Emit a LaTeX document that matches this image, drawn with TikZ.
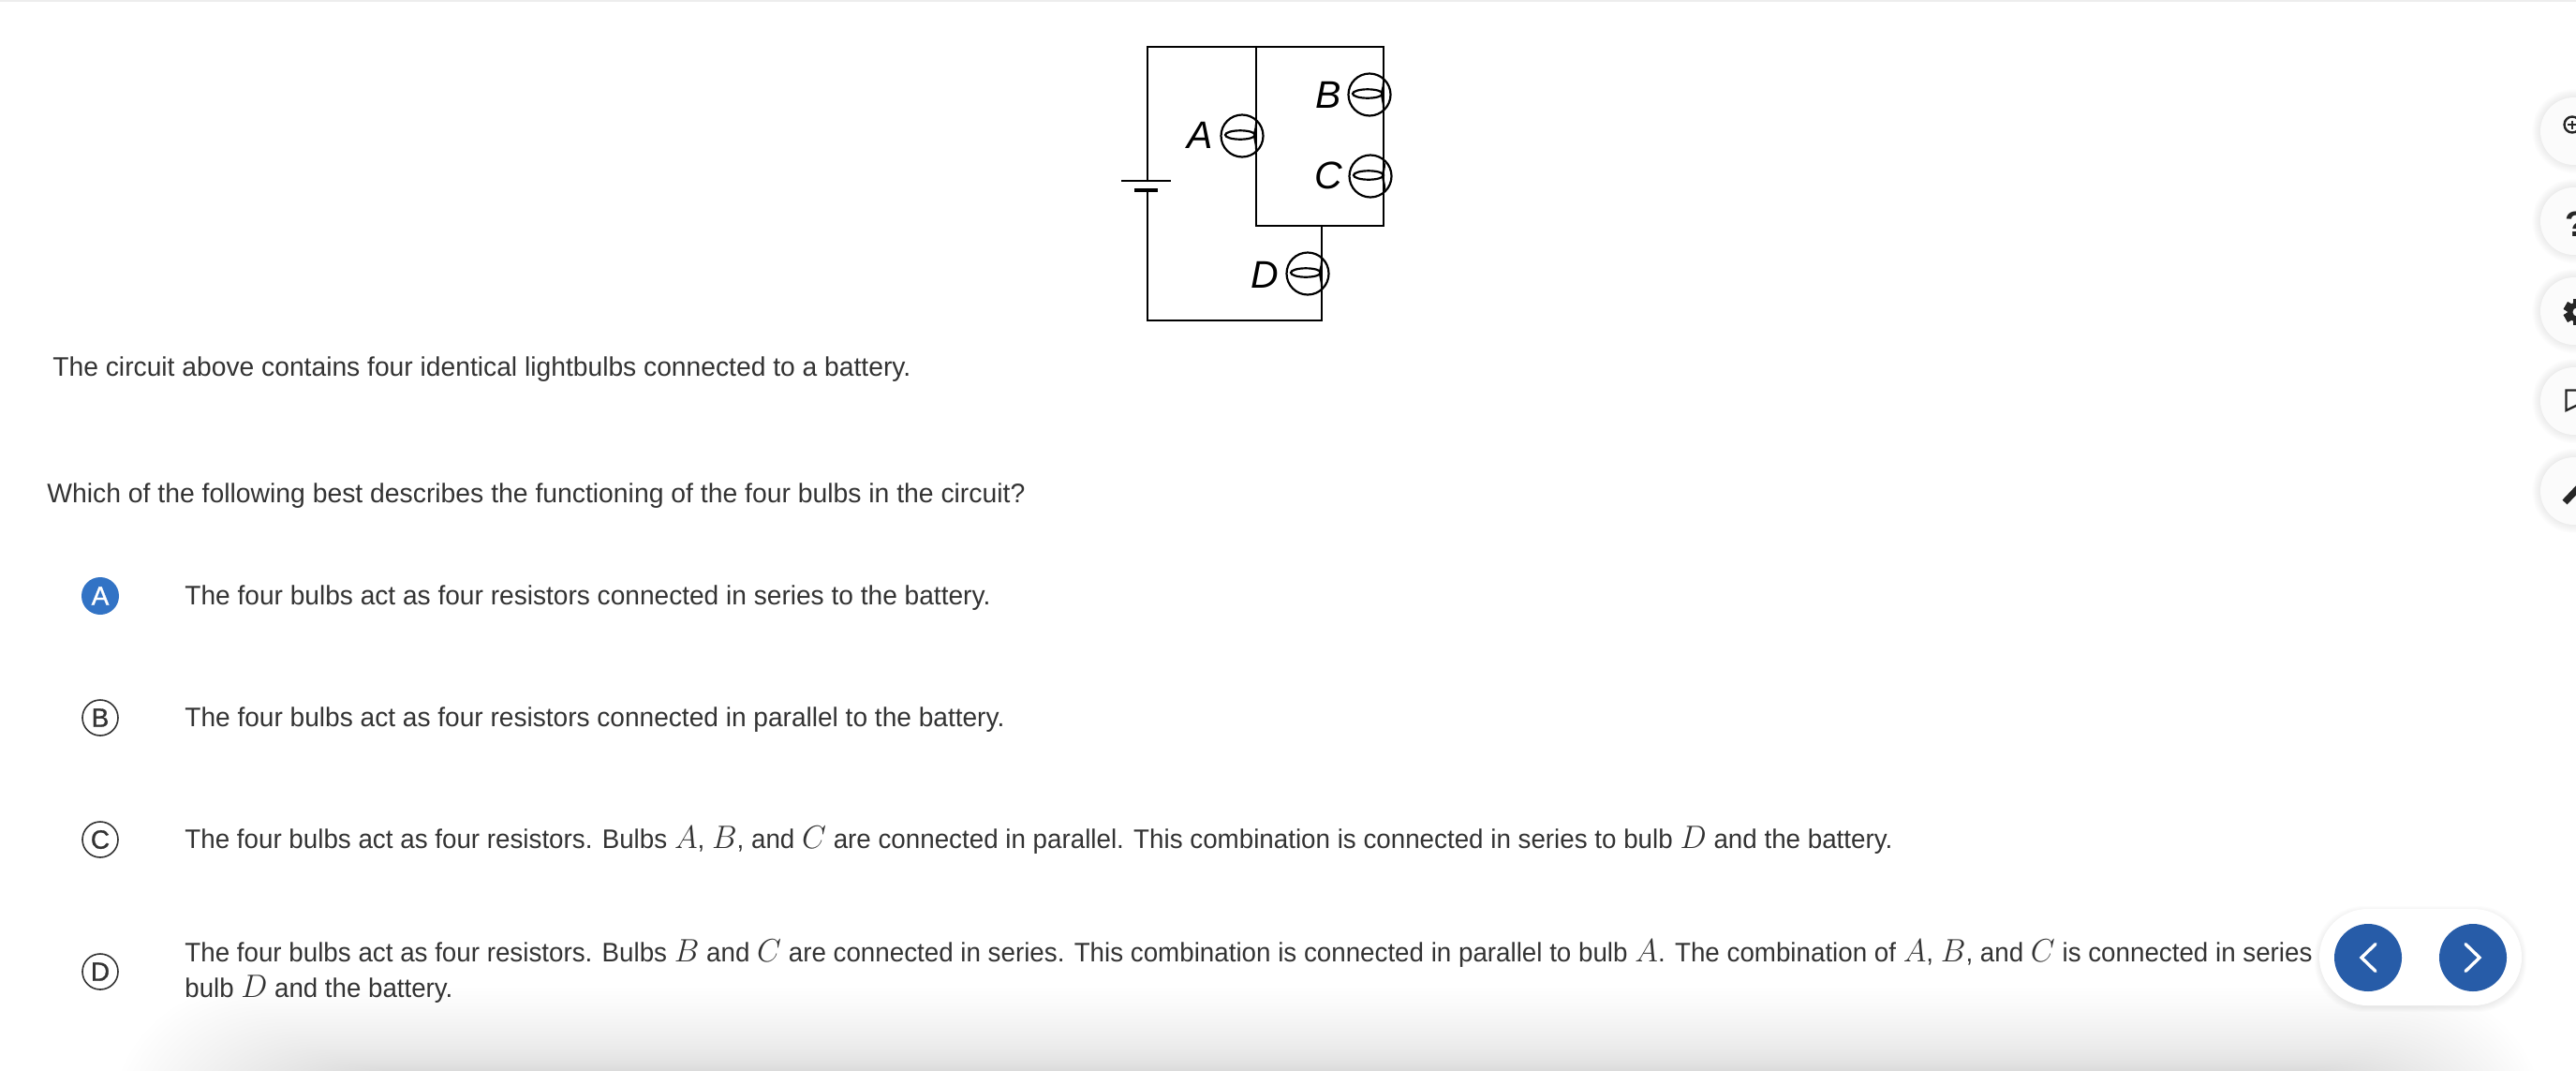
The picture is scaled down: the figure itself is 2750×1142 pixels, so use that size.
\documentclass[tikz,border=0pt]{standalone}
\usepackage{fontspec}
\usepackage{graphicx}
\setmainfont{Liberation Sans}
\newfontfamily\optfont[FakeBold=1]{Liberation Sans}
\definecolor{ink}{HTML}{333333}
\definecolor{navblue}{HTML}{275CA8}
\definecolor{picked}{HTML}{3273C5}
\definecolor{sidefill}{HTML}{FBFBFB}
\tikzset{
  x=0.5pt,y=-0.5pt,
  wire/.style={line width=1.1pt,black,line cap=round,line join=miter},
  bulbring/.style={circle,draw=black,line width=1.1pt,minimum size=22.5pt,inner sep=0pt},
  bulblabel/.style={font=\fontsize{20.5}{21}\selectfont\itshape,text=black,inner sep=0pt},
  bodytext/.style={anchor=base west,inner sep=0pt,text=ink,font=\fontsize{14.3}{17}\selectfont},
  optring/.style={circle,draw=ink,line width=0.8pt,minimum size=19pt,inner sep=0pt,text=ink,font=\fontsize{14}{14}\selectfont\optfont},
  optpicked/.style={circle,fill=picked,minimum size=20pt,inner sep=0pt,text=white,font=\fontsize{14}{14}\selectfont\optfont},
  navbtn/.style={circle,fill=navblue,minimum size=36pt,inner sep=0pt},
  chevron/.style={white,line width=1.7pt,line cap=round,line join=miter},
  sidebtn/.style={circle,fill=sidefill,minimum size=36pt,inner sep=0pt},
  sideicon/.style={black!85,line join=miter},
}
% name, x, baseline, width in px, text
\newcommand{\fitline}[5]{\node[bodytext] (#1) at (#2,#3) {\resizebox{\dimexpr#4pt/2\relax}{\height}{#5}};}
% math letter, a little larger than the text, as printed
\newcommand{\mvar}[1]{{\fontsize{16.5}{17}\selectfont$#1$}}
% name, label, centre x, centre y, label x, label y
\newcommand{\bulbat}[6]{%
  \node[bulbring] (#1) at (#3,#4) {};
  \node[bulblabel] (#1lab) at (#5,#6) {#2};
  \draw[wire] ($(#1)+(-2,-1)$) ellipse [x radius=16,y radius=4.7];
  \draw[wire] ($(#1)+(15,-13)$) .. controls ($(#1)+(15,-6)$) and ($(#1)+(12,-2)$) .. ($(#1)+(13,0)$) .. controls ($(#1)+(13,4)$) and ($(#1)+(15,6)$) .. ($(#1)+(15,14)$);
}
% soft shadow round a circle
\newcommand{\softcircle}[3]{\foreach \s in {0,1,...,9}{\fill[black,fill opacity=0.007] (#1,#2) circle [radius=#3+\s];}}
\usetikzlibrary{calc}
\begin{document}
\begin{tikzpicture}
\useasboundingbox (0,0) rectangle (2750,1142);
\begin{scope}
\clip (0,0) rectangle (2750,1142);
\fill[white] (0,0) rectangle (2750,1142);
\fill[black!7] (0,0) rectangle (2750,2);

% page-bottom shadow
\foreach \i in {0,1,...,44}{
  \pgfmathsetmacro{\topy}{1146-92*(1-\i/44)^2}
  \fill[black,fill opacity=0.0032,rounded corners=70pt] (120+4.5*\i,\topy) rectangle (2715-3.2*\i,1300);
}

% circuit corners
\coordinate (tl) at (1225,50);
\coordinate (tm) at (1341,50);
\coordinate (tr) at (1477,50);
\coordinate (mm) at (1341,241);
\coordinate (mr) at (1477,241);
\coordinate (md) at (1411,241);
\coordinate (bl) at (1225,342);
\coordinate (bd) at (1411,342);
\coordinate (plus) at (1225,193);
\coordinate (minus) at (1225,202);
\coordinate (plusl) at (1197,193);
\coordinate (plusr) at (1250,193);
\coordinate (minusl) at (1211,202.5);
\coordinate (minusr) at (1236,202.5);
\draw[wire] (plus) -- (tl) -- (tr) -- (mr) -- (mm) -- (tm);
\draw[wire] (md) -- (bd) -- (bl) -- (minus);
\draw[wire,line cap=butt] (plusl) -- (plusr);
\draw[wire,line width=2pt,line cap=butt] (minusl) -- (minusr);
\bulbat{bulbA}{A}{1326}{145}{1281}{144}
\bulbat{bulbB}{B}{1462}{101}{1418}{101}
\bulbat{bulbC}{C}{1463}{188}{1418}{187}
\bulbat{bulbD}{D}{1396}{292}{1350}{293}

% question text
\fitline{intro}{56}{401}{916}{The circuit above contains four identical lightbulbs connected to a battery.}
\fitline{ask}{50}{536}{1044}{Which of the following best describes the functioning of the four bulbs in the circuit?}

% options
\node[optpicked] (optA) at (107,636) {A};
\node[optring] (optB) at (107,766) {B};
\node[optring] (optC) at (107,896) {C};
\node[optring] (optD) at (107,1037) {D};
\fitline{textA}{197}{645}{860}{The four bulbs act as four resistors connected in series to the battery.}
\fitline{textB}{197}{775}{875}{The four bulbs act as four resistors connected in parallel to the battery.}
\fitline{textC}{197}{905}{1823}{The four bulbs act as four resistors. Bulbs \mvar{A}, \mvar{B}, and \mvar{C} are connected in parallel. This combination is connected in series to bulb \mvar{D} and the battery.}
\fitline{textDa}{197}{1026}{2271}{The four bulbs act as four resistors. Bulbs \mvar{B} and \mvar{C} are connected in series. This combination is connected in parallel to bulb \mvar{A}. The combination of \mvar{A}, \mvar{B}, and \mvar{C} is connected in series}
\fitline{textDb}{197}{1064}{286}{bulb \mvar{D} and the battery.}

% navigation pill
\foreach \s in {0,1,...,5}{
  \fill[black,fill opacity=0.012,rounded corners=26pt] (2476-\s,970-\s+2) rectangle (2692+\s,1073+\s+2);
}
\fill[white,rounded corners=25.7pt] (2476,970) rectangle (2692,1073);
\node[navbtn] (prev) at (2528,1022) {};
\node[navbtn] (next) at (2640,1022) {};
\draw[chevron] ($(prev)+(8,-14.5)$) -- ($(prev)+(-7,0)$) -- ($(prev)+(8,14.5)$);
\draw[chevron] ($(next)+(-8,-14.5)$) -- ($(next)+(7,0)$) -- ($(next)+(-8,14.5)$);

% side buttons
\softcircle{2748}{140}{36}
\softcircle{2748}{236}{36}
\softcircle{2748}{332}{36}
\softcircle{2748}{428}{36}
\softcircle{2748}{524}{36}
\node[sidebtn] (zoombtn) at (2748,140) {};
\node[sidebtn] (helpbtn) at (2748,236) {};
\node[sidebtn] (gearbtn) at (2748,332) {};
\node[sidebtn] (markbtn) at (2748,428) {};
\node[sidebtn] (penbtn) at (2748,524) {};
% zoom icon
\draw[sideicon,line width=1.2pt] (2746,133) circle [radius=8.5];
\draw[sideicon,line width=0.8pt] (2741,133) -- (2750,133) (2746,128.5) -- (2746,137.5);
% help icon
\node[anchor=base,inner sep=0pt,text=black!85,font=\fontsize{19}{20}\selectfont\bfseries] (helpmark) at (2750,252) {?};
% gear icon
\foreach \a in {0,60,...,300}{
  \fill[black!85,rotate around={\a:(2751,333)}] (2746.5,319) rectangle (2755.5,347);
}
\fill[black!85] (2751,333) circle [radius=10.5];
\fill[sidefill] (2751,333) circle [radius=4.5];
% bookmark icon
\draw[sideicon,line width=1.2pt] (2762,416.5) -- (2739.5,416.5) -- (2739.5,438) -- (2750,433) -- (2762,436);
% pencil icon
\draw[sideicon,line width=3.5pt,line cap=butt] (2738,536) -- (2756,517);
\end{scope}
\end{tikzpicture}
\end{document}
